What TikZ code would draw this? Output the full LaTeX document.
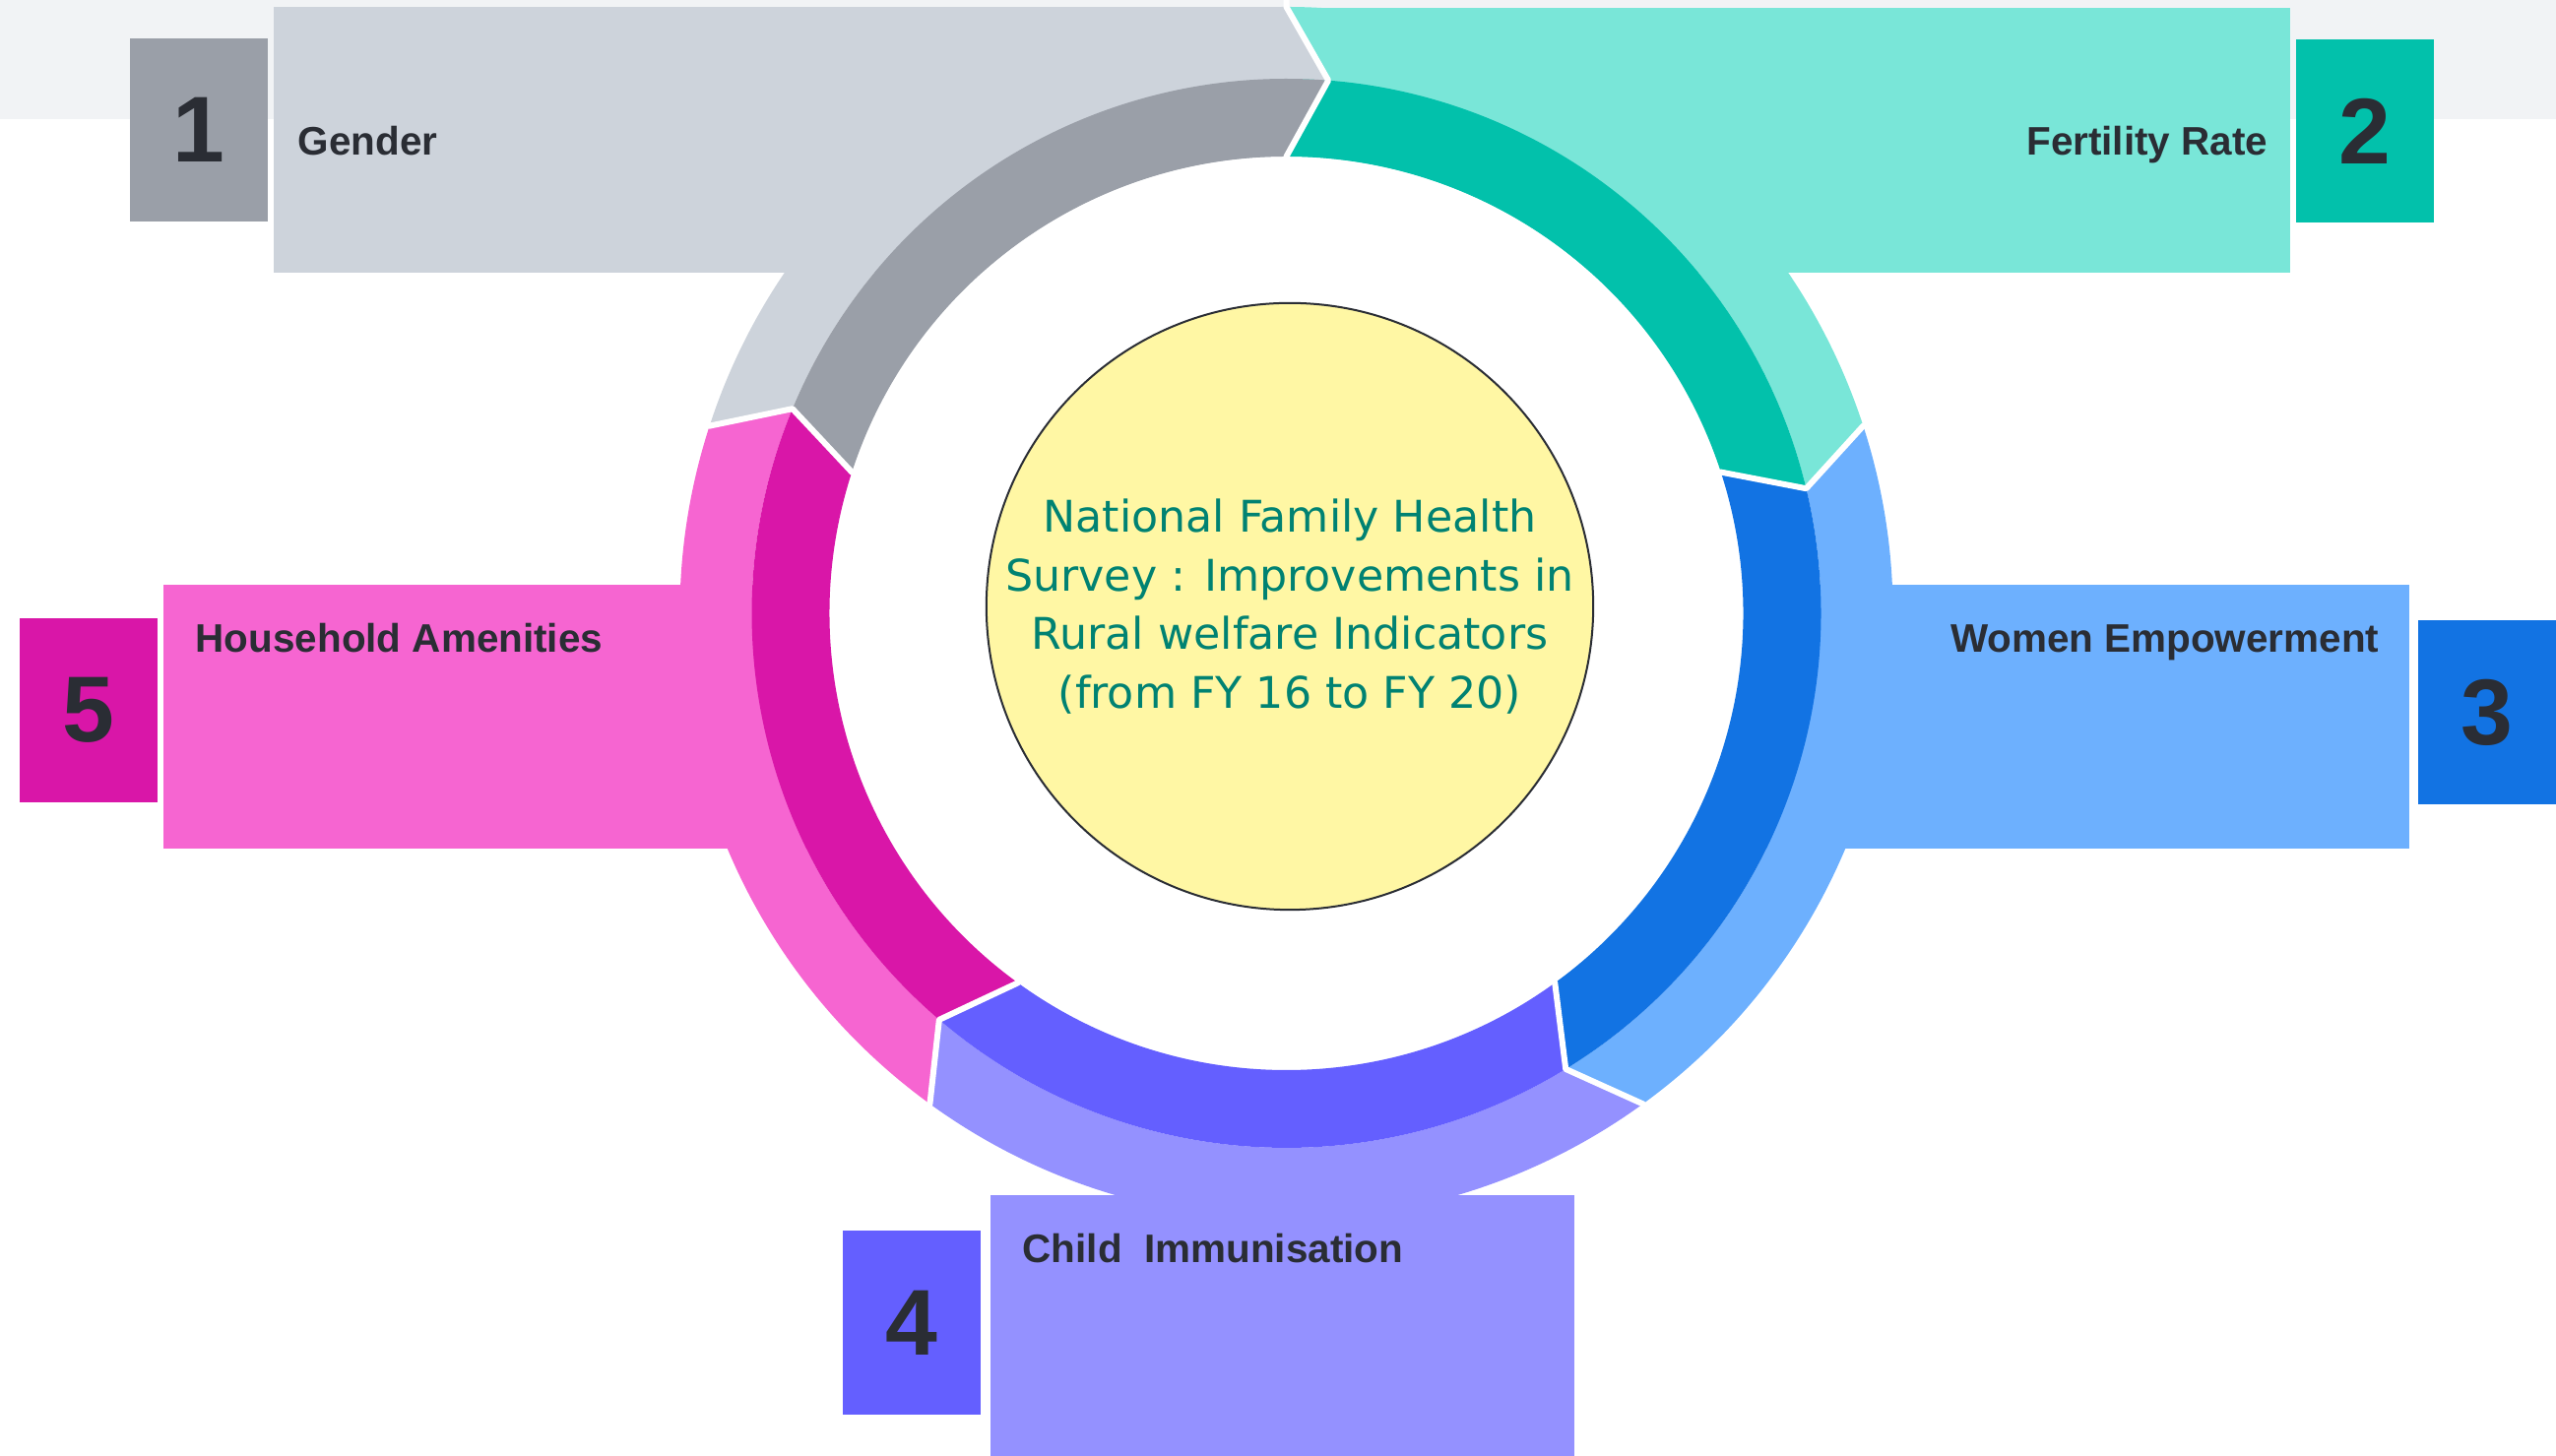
\documentclass[tikz,border=0pt]{standalone}
\usepackage{fontspec}
\setmainfont{Liberation Sans}
\newfontfamily\surveyfont{DejaVu Sans}
\definecolor{band}{HTML}{F1F3F5}
\definecolor{grayL}{HTML}{CDD3DB}
\definecolor{grayD}{HTML}{9A9FA8}
\definecolor{greenL}{HTML}{79E6D8}
\definecolor{greenD}{HTML}{02C1AB}
\definecolor{blueL}{HTML}{6DB0FE}
\definecolor{blueD}{HTML}{1273E3}
\definecolor{purpL}{HTML}{9491FF}
\definecolor{purpD}{HTML}{645FFF}
\definecolor{pinkL}{HTML}{F665D1}
\definecolor{pinkD}{HTML}{D916A8}
\definecolor{paleyellow}{HTML}{FFF7A4}
\definecolor{tealtext}{HTML}{008272}
\definecolor{ink}{HTML}{2A2D34}
\begin{document}
\begin{tikzpicture}[x=0.01cm, y=0.01cm,
    numbox/.style={minimum width=1.4cm, minimum height=1.86cm, inner sep=0pt, text=ink,
      font=\fontsize{27}{27}\selectfont\bfseries},
    lbl/.style={text=ink, inner sep=0pt, font=\fontsize{11.5}{13}\selectfont\bfseries},
    gap/.style={white, line width=0.06cm, line join=round}]
    \useasboundingbox (0,0) rectangle (2596,1479);
    \fill[band] (0,1358) rectangle (2596,1479);

    \fill[grayL] (278,1202) rectangle (1306.5,1472);
    \fill[greenL] (1306.5,1202) rectangle (2326,1471);
    \fill[blueL] (1780,617) rectangle (2447,885);
    \fill[purpL] (1006,0) rectangle (1599,265);
    \fill[pinkL] (166,617) rectangle (833,885);

    \begin{scope}[shift={(1306.5,856)}]
        \fill[white] (0,0) circle[radius=464];
        \foreach \a/\lc/\dc in {162/grayL/grayD, 90/greenL/greenD, 18/blueL/blueD, -54/purpL/purpD, -126/pinkL/pinkD}{
            \fill[\lc] (\a:616) arc[start angle=\a, end angle={\a-72}, radius=616]
                -- ({\a-76.5}:543) arc[start angle={\a-76.5}, end angle={\a-4.5}, radius=543] -- cycle;
            \fill[\dc] ({\a-4.5}:543) arc[start angle={\a-4.5}, end angle={\a-76.5}, radius=543]
                -- ({\a-72}:464) arc[start angle={\a-72}, end angle=\a, radius=464] -- cycle;
        }
        \foreach \a in {162, 90, 18, -54, -126}
            \draw[gap] (\a:624) -- (\a:616) -- ({\a-4.5}:543) -- (\a:464) -- (\a:456);
    \end{scope}

    \node[numbox, fill=grayD] (box1) at (202,1347) {1};
    \node[numbox, fill=greenD] (box2) at (2402,1346) {2};
    \node[numbox, fill=blueD] (box3) at (2526,755.5) {3};
    \node[numbox, fill=purpD] (box4) at (926,135.5) {4};
    \node[numbox, fill=pinkD] (box5) at (90,757.5) {5};

    \node[lbl, anchor=base west] (gender) at (302,1321) {Gender};
    \node[lbl, anchor=base east] (fertility) at (2304,1321) {Fertility Rate};
    \node[lbl, anchor=base east] (women) at (2417,816) {Women Empowerment};
    \node[lbl, anchor=base west] (amenities) at (198,816) {Household Amenities};
    \node[lbl, anchor=base west] (immunisation) at (1038,196) {Child\ \ Immunisation};

    \node[circle, draw=ink, line width=0.02cm, fill=paleyellow, minimum size=6.16cm, inner sep=0pt,
        align=center, text=tealtext, font=\surveyfont\fontsize{12.6}{17}\selectfont] (survey) at (1310,863)
        {National Family Health\\Survey : Improvements in\\Rural welfare Indicators\\(from FY 16 to FY 20)};
\end{tikzpicture}
\end{document}
